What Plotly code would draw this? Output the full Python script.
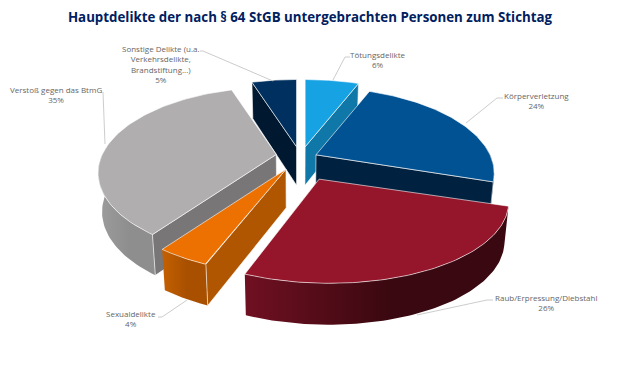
import numpy as np
import plotly.graph_objects as go

# --- data ---
labels = ["Tötungsdelikte", "Körperverletzung", "Raub/Erpressung/Diebstahl",
          "Sexualdelikte", "Verstoß gegen das BtmG", "Sonstige Delikte (u.a.<br>Verkehrsdelikte,<br>Brandstiftung...)"]
values = [6, 24, 26, 4, 35, 5]
explode = [22, 21, 52, 25, 21, 22]
top_colors = ["#17a2e3", "#005293", "#95152a", "#ed7100", "#b0aeaf", "#00305f"]
cut_colors = ["#1078a8", "#00213f", "#3a0810", "#b05500", "#787676", "#001830"]
rim_left = ["#1078a8", "#00213f", "#701022", "#c46000", "#9c9c9c", "#001830"]
rim_right = ["#1078a8", "#00213f", "#3a0810", "#a85000", "#8e8e8e", "#001830"]
cut_edge = [1, 1, None, 0, 0, 0]   # which edge faces the viewer: 0 start, 1 end
nudge_x = [4, 0, 0, 1, 0, 3]       # per-slice placement tuning
nudge_y = [0, 2, 0, 2, -1, 0]
stretch_x = [1, 1, 1.05, 1, 1, 1]
skew_x = [0, 0, 0.06, 0, 0, 0]
draw_order = [0, 5, 1, 4, 3, 2]

# label centre x, first line y, leader path
label_x = [378, 536, 546, 131, 56, 161]
label_y = [55, 95.5, 298, 314, 90, 49]
leaders = [
    ([350, 345, 333], [57, 57, 80]),
    ([503, 497, 466], [98, 98, 123]),
    ([493, 487, 417], [300, 300, 315]),
    ([158, 162, 187], [317, 317, 300]),
    ([103, 103, 105], [92, 92, 144]),
    ([200, 203, 273], [51, 51, 81]),
]

# --- 3D pie projection ---
CX, CY, R, K, Q, H, SHR = 297, 157, 174, 0.215, 0.47, 38.5, 0.98


def project(i, ox, oy, X, Y, bottom=False):
    """Slice-local perspective, then slice explosion."""
    X, Y = np.asarray(X, float), np.asarray(Y, float)
    s = 1 / (1 + K * Y / R)
    x = ox + nudge_x[i] + s * X * stretch_x[i] - skew_x[i] * Y
    y = -oy * Q + nudge_y[i] - s * Y * Q
    if bottom:
        x = x * SHR
        y = y + s ** 0.3 * H
    return CX + x, CY + y


fig = go.Figure()
LIGHT = "rgba(255,255,255,0.75)"


def poly(x, y, fill, line=None, grad=None):
    kw = dict(fillcolor=fill)
    if grad:
        kw = dict(fillgradient=dict(type="horizontal", colorscale=grad))
    fig.add_trace(go.Scatter(x=list(x), y=list(y), mode="lines", fill="toself", hoverinfo="skip",
                             showlegend=False,
                             line=dict(color=line or "rgba(0,0,0,0)", width=0.8), **kw))


edges = np.cumsum([0] + values) / sum(values) * 2 * np.pi
for i in draw_order:
    a0, a1 = edges[i], edges[i + 1]
    mid = (a0 + a1) / 2
    ox, oy = explode[i] * np.sin(mid), explode[i] * np.cos(mid)
    th = np.linspace(a0, a1, 80)
    rx, ry = R * np.sin(th), R * np.cos(th)
    # outer rim: only the viewer-facing part
    m = np.cos(th) < 0.1
    if m.sum() > 1:
        tx, ty = project(i, ox, oy, rx[m], ry[m])
        bx, by = project(i, ox, oy, rx[m], ry[m], True)
        poly(np.r_[tx, bx[::-1], tx[0]], np.r_[ty, by[::-1], ty[0]], rim_left[i],
             grad=[[0, rim_left[i]], [0.55, rim_right[i]], [1, rim_right[i]]])
    # viewer-facing cut face
    if cut_edge[i] is not None:
        a = a1 if cut_edge[i] else a0
        ex, ey = [0, R * np.sin(a)], [0, R * np.cos(a)]
        ux, uy = project(i, ox, oy, ex, ey)
        dx, dy = project(i, ox, oy, ex, ey, True)
        poly(np.r_[ux, dx[::-1], ux[0]], np.r_[uy, dy[::-1], uy[0]], cut_colors[i], line=LIGHT)
    # top
    px, py = project(i, ox, oy, np.r_[0, rx, 0], np.r_[0, ry, 0])
    poly(px, py, top_colors[i], line=LIGHT)

# leaders + labels
for i in range(len(values)):
    fig.add_trace(go.Scatter(x=leaders[i][0], y=leaders[i][1], mode="lines", hoverinfo="skip", showlegend=False,
                             line=dict(color="#bfbfbf", width=0.8)))
    fig.add_annotation(x=label_x[i], y=label_y[i] - 8, yanchor="top", xanchor="center", showarrow=False,
                       text=f"{labels[i]}<br>{values[i]}%", align="center",
                       font=dict(family="Open Sans", size=8, color="#666666"))

fig.update_layout(
    width=620, height=369, margin=dict(l=0, r=0, t=0, b=0), paper_bgcolor="white", plot_bgcolor="white",
    showlegend=False,
    xaxis=dict(range=[0, 620], visible=False, fixedrange=True),
    yaxis=dict(range=[369, 0], visible=False, fixedrange=True),
    title=dict(text="<b>Hauptdelikte der nach § 64 StGB untergebrachten Personen zum Stichtag</b>",
               x=0.5, xanchor="center", y=1 - 17 / 369, yanchor="middle",
               font=dict(family="Open Sans", size=13.3, color="#002060")),
)
fig.write_html("out.html", config=dict(displayModeBar=False),
               post_script="document.body.style.margin='0';")
